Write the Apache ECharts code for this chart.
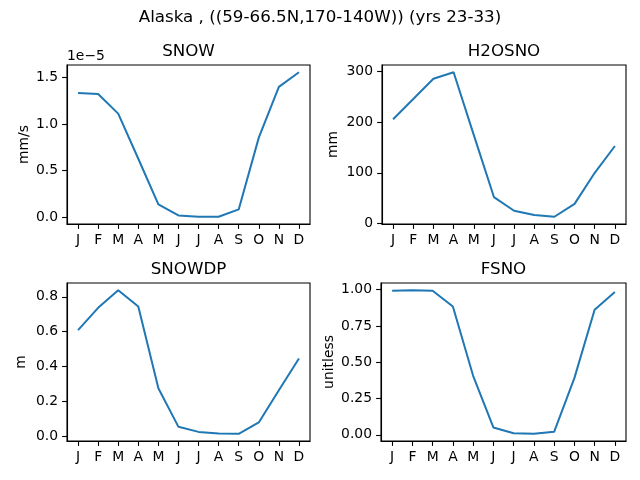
<!DOCTYPE html>
<html>
<head>
<meta charset="utf-8">
<script src="https://cdn.jsdelivr.net/npm/echarts@6/dist/echarts.min.js"></script>
<style>
  html, body { margin: 0; padding: 0; background: #fff; }
  #chart { width: 640px; height: 480px; }
</style>
</head>
<body>
<div id="chart"></div>
<script>
const months = ['J', 'F', 'M', 'A', 'M', 'J', 'J', 'A', 'S', 'O', 'N', 'D']

// monthly climatology, Alaska region
const snow = [1.335e-5, 1.324e-5, 1.113e-5, 0.628e-5, 0.137e-5, 0.018e-5, 0.004e-5, 0.004e-5, 0.083e-5, 0.855e-5, 1.40e-5, 1.558e-5]
const h2osno = [206, 246, 286, 299, 175, 52, 25, 16.5, 13, 38.5, 100, 153]
const snowdp = [0.609, 0.737, 0.838, 0.745, 0.276, 0.055, 0.026, 0.017, 0.015, 0.08, 0.265, 0.447]
const fsno = [0.993, 0.997, 0.993, 0.885, 0.407, 0.051, 0.011, 0.007, 0.021, 0.391, 0.862, 0.984]

const snowTicks = [0, 0.5e-5, 1.0e-5, 1.5e-5]
const h2osnoTicks = [0, 100, 200, 300]
const snowdpTicks = [0, 0.2, 0.4, 0.6, 0.8]
const fsnoTicks = [0, 0.25, 0.5, 0.75, 1.0]

const FONT = 'DejaVu Sans'
const BLUE = '#1f77b4'

const panels = [
  { title: 'SNOW', unit: 'mm/s', data: snow, ticks: snowTicks, fmt: v => (v / 1e-5).toFixed(1), gap: 36,
    box: { left: 67, top: 65, width: 243, height: 159 } },
  { title: 'H2OSNO', unit: 'mm', data: h2osno, ticks: h2osnoTicks, fmt: v => String(Math.round(v)), gap: 42,
    box: { left: 382, top: 65, width: 244, height: 159 } },
  { title: 'SNOWDP', unit: 'm', data: snowdp, ticks: snowdpTicks, fmt: v => v.toFixed(1), gap: 39,
    box: { left: 67, top: 283, width: 243, height: 158 } },
  { title: 'FSNO', unit: 'unitless', data: fsno, ticks: fsnoTicks, fmt: v => v.toFixed(2), gap: 45,
    box: { left: 381, top: 283, width: 245, height: 158 } }
]

const monthIdx = months.map((m, i) => i)

const chart = echarts.init(document.getElementById('chart'))

const titles = [{
  text: 'Alaska , ((59-66.5N,170-140W)) (yrs 23-33)',
  left: 320, top: 9, textAlign: 'center', padding: 0,
  textStyle: { fontFamily: FONT, fontSize: 16.7, fontWeight: 'normal', color: '#000' }
}, {
  text: '1e\u22125',
  left: 67, top: 49, padding: 0,
  textStyle: { fontFamily: FONT, fontSize: 13.9, fontWeight: 'normal', color: '#000' }
}]

panels.forEach(p => {
  titles.push({
    text: p.title,
    left: p.box.left + p.box.width / 2, top: p.box.top - 22, textAlign: 'center', padding: 0,
    textStyle: { fontFamily: FONT, fontSize: 16.7, fontWeight: 'normal', color: '#000' }
  })
})

const axisTextStyle = { fontFamily: FONT, fontSize: 13.9, color: '#000' }

chart.setOption({
  animation: false,
  title: titles,
  grid: panels.map(p => Object.assign({
    show: true, borderColor: '#000', borderWidth: 1.1, backgroundColor: 'transparent'
  }, p.box)),
  xAxis: panels.map((p, i) => ({
    type: 'value', gridIndex: i, min: -0.55, max: 11.55,
    axisLine: { show: true, onZero: false, lineStyle: { color: '#000', width: 1.1 } },
    axisTick: { show: true, length: 4.9, customValues: monthIdx, lineStyle: { color: '#000', width: 1.1 } },
    axisLabel: Object.assign({ margin: 9, customValues: monthIdx, formatter: v => months[Math.round(v)] }, axisTextStyle),
    splitLine: { show: false }
  })),
  yAxis: panels.map((p, i) => {
    const lo = Math.min(...p.data), hi = Math.max(...p.data)
    const pad = (hi - lo) * 0.05
    return {
      type: 'value', gridIndex: i, min: lo - pad, max: hi + pad,
      name: p.unit, nameLocation: 'middle', nameGap: p.gap,
      nameTextStyle: axisTextStyle,
      axisLine: { show: true, onZero: false, lineStyle: { color: '#000', width: 1.1 } },
      axisTick: { show: true, length: 4.9, customValues: p.ticks, lineStyle: { color: '#000', width: 1.1 } },
      axisLabel: Object.assign({ margin: 9, customValues: p.ticks, formatter: p.fmt }, axisTextStyle),
      splitLine: { show: false }
    }
  }),
  series: panels.map((p, i) => ({
    type: 'line', xAxisIndex: i, yAxisIndex: i,
    data: p.data.map((v, k) => [k, v]),
    showSymbol: false, symbol: 'none',
    lineStyle: { color: BLUE, width: 2 },
    itemStyle: { color: BLUE }
  }))
})
</script>
</body>
</html>
